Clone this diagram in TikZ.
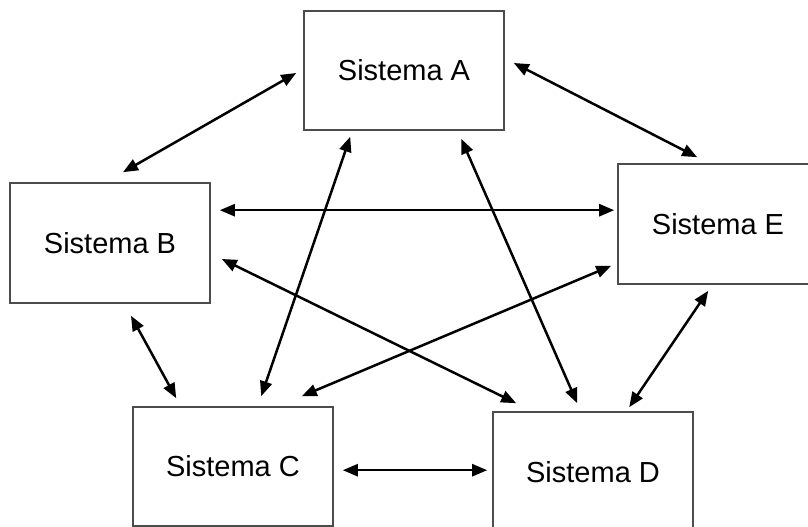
\documentclass[tikz,border=0pt]{standalone}
\usepackage{fontspec}
\setmainfont{Liberation Sans}
\usetikzlibrary{arrows.meta,calc}
\begin{document}
\begin{tikzpicture}[x=1pt,y=-1pt,
  sysbox/.style={draw=black!70, line width=1.6pt, fill=white, inner sep=0pt,
    minimum width=200pt, minimum height=120pt,
    font=\fontsize{29}{34}\selectfont},
  link/.style={line width=2.5pt, {Triangle[length=15pt,width=12pt]}-{Triangle[length=15pt,width=12pt]}}]
\clip (0,0) rectangle (808,527);
\fill[white] (0,0) rectangle (808,527);

% the five systems
\node[sysbox, minimum height=119pt] (A) at (404,70.5) {Sistema A};
\node[sysbox] (B) at (110,243) {Sistema B};
\node[sysbox, minimum height=119pt] (C) at (233,466.5) {Sistema C};
\node[sysbox] (D) at (593,472) {Sistema D};
\node[sysbox] (E) at (718,224) {Sistema E};

% two-way links between every pair
\draw[link] ($(A.west)+(-7,2.5)$) -- ($(B.north)+(13,-10)$);
\draw[link] ($(A.east)+(9,-7.5)$) -- ($(E.north west)+(80,-6)$);
\draw[link] ($(B.north east)+(9,28)$) -- ($(E.north west)+(-3,47)$);
\draw[link] ($(B.east)+(11,16)$) -- ($(D.north west)+(24,-8)$);
\draw[link] ($(B.south)+(21,12)$) -- ($(C.north west)+(44,-8)$);
\draw[link] ($(A.south west)+(47,6)$) -- ($(C.north west)+(129,-10)$);
\draw[link] ($(A.south west)+(158,8)$) -- ($(D.north west)+(85,-8)$);
\draw[link] ($(E.south west)+(-6,-19)$) -- ($(C.north east)+(-32,-10)$);
\draw[link] ($(E.south west)+(91,6)$) -- ($(D.north west)+(137,-4)$);
\draw[link] ($(C.north east)+(9,64)$) -- ($(D.north west)+(-5,59)$);
\end{tikzpicture}
\end{document}
